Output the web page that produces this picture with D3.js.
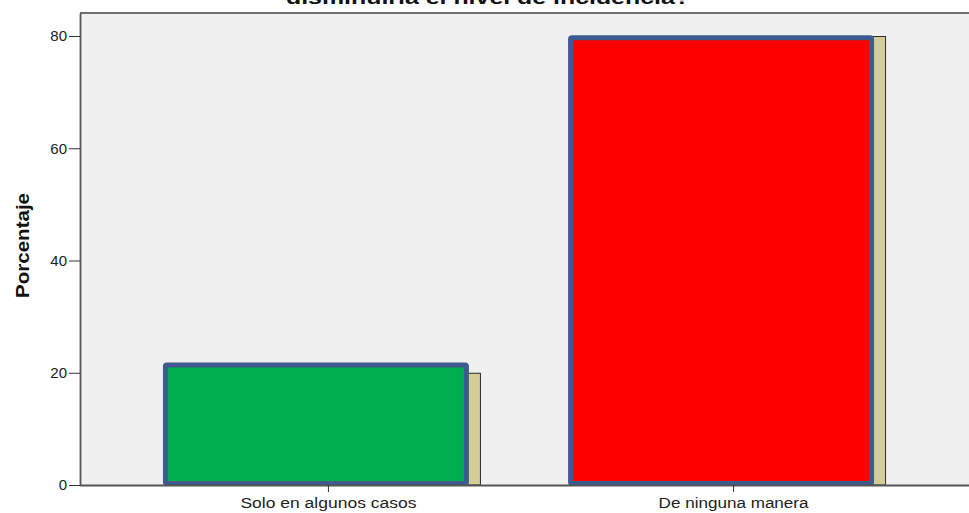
<!DOCTYPE html>
<html><head><meta charset="utf-8">
<script src="https://cdn.jsdelivr.net/npm/d3@7"></script>
<style>body{margin:0;background:#fff;overflow:hidden;}svg{display:block;font-family:"Liberation Sans",Arial,sans-serif;}</style>
</head><body>
<script>
const categories = ["Solo en algunos casos", "De ninguna manera"];
const barValues = [21.4, 79.7];
const shadowValues = [20, 80];
const barColors = ["#00AD4F", "#FF0000"];
const yTicks = [0, 20, 40, 60, 80];
const titleText = "disminuiría el nivel de incidencia?";
const yLabel = "Porcentaje";

(function () {
const W = 969, H = 513;
const svg = d3.select("body").append("svg").attr("width", W).attr("height", H);

const pLeft = 80, pTop = 13, pBottom = 485, pRight = 981;
const y = d3.scaleLinear().domain([0, 84.1]).range([pBottom, pTop]);
const x = d3.scalePoint().domain(categories).range([pLeft, pRight]).padding(0.612);

// plot background
svg.append("rect").attr("x", pLeft).attr("y", pTop).attr("width", W - pLeft).attr("height", pBottom - pTop).attr("fill", "#F0F0F0");
svg.append("line").attr("x1", pLeft).attr("x2", W).attr("y1", pTop).attr("y2", pTop).attr("stroke", "#6e6e6e").attr("stroke-width", 2);

// shadows
svg.selectAll("rect.shadow").data(categories).enter().append("rect")
  .attr("class", "shadow")
  .attr("x", d => x(d) - 150)
  .attr("y", (d, i) => y(shadowValues[i]) + 0.5)
  .attr("width", 302.5)
  .attr("height", (d, i) => y(0) - y(shadowValues[i]) - 0.5)
  .attr("fill", "#D3CE98").attr("stroke", "#2b2b2b").attr("stroke-width", 1);

// main bars
svg.selectAll("rect.bar").data(categories).enter().append("rect")
  .attr("class", "bar")
  .attr("x", d => x(d) - 162.5)
  .attr("y", (d, i) => y(barValues[i]))
  .attr("width", 301)
  .attr("height", (d, i) => y(0) - 1.5 - y(barValues[i]))
  .attr("rx", 1.5)
  .attr("fill", (d, i) => barColors[i])
  .attr("stroke", "#3D5B8C").attr("stroke-width", 5);

// axes
const yAxis = svg.append("g").attr("transform", `translate(${pLeft},0)`)
  .call(d3.axisLeft(y).tickValues(yTicks).tickSize(11).tickPadding(2).tickSizeOuter(0));
yAxis.select(".domain").attr("stroke", "#555").attr("stroke-width", 1.8);
yAxis.selectAll(".tick line").attr("stroke", "#333");
yAxis.selectAll(".tick text").attr("font-size", 15).attr("fill", "#222").attr("font-family", "Liberation Sans, Arial, sans-serif");

const xAxis = svg.append("g").attr("transform", `translate(0,${pBottom})`)
  .call(d3.axisBottom(x).tickSize(7).tickPadding(4).tickSizeOuter(0));
xAxis.select(".domain").attr("stroke", "#555").attr("stroke-width", 1.8).attr("d", `M${pLeft},0.5H${W}`);
xAxis.selectAll(".tick line").attr("stroke", "#333");
const xLens = [176, 150];
xAxis.selectAll(".tick text").attr("font-size", 14).attr("fill", "#222")
  .attr("font-family", "Liberation Sans, Arial, sans-serif")
  .attr("y", 23).attr("dy", 0)
  .attr("textLength", (d, i) => xLens[i]).attr("lengthAdjust", "spacingAndGlyphs");

// y label
svg.append("text").attr("transform", "translate(29,245.5) rotate(-90)")
  .attr("text-anchor", "middle").attr("font-weight", "bold").attr("font-size", 19)
  .attr("textLength", 105).attr("lengthAdjust", "spacingAndGlyphs")
  .attr("fill", "#111").text(yLabel);

// title (cut off at top, as in the reference)
svg.append("text").attr("x", 488).attr("y", 3.5)
  .attr("text-anchor", "middle").attr("font-weight", "bold").attr("font-size", 18)
  .attr("textLength", 404).attr("lengthAdjust", "spacingAndGlyphs")
  .attr("fill", "#111").text(titleText);
})();
</script>
</body></html>
